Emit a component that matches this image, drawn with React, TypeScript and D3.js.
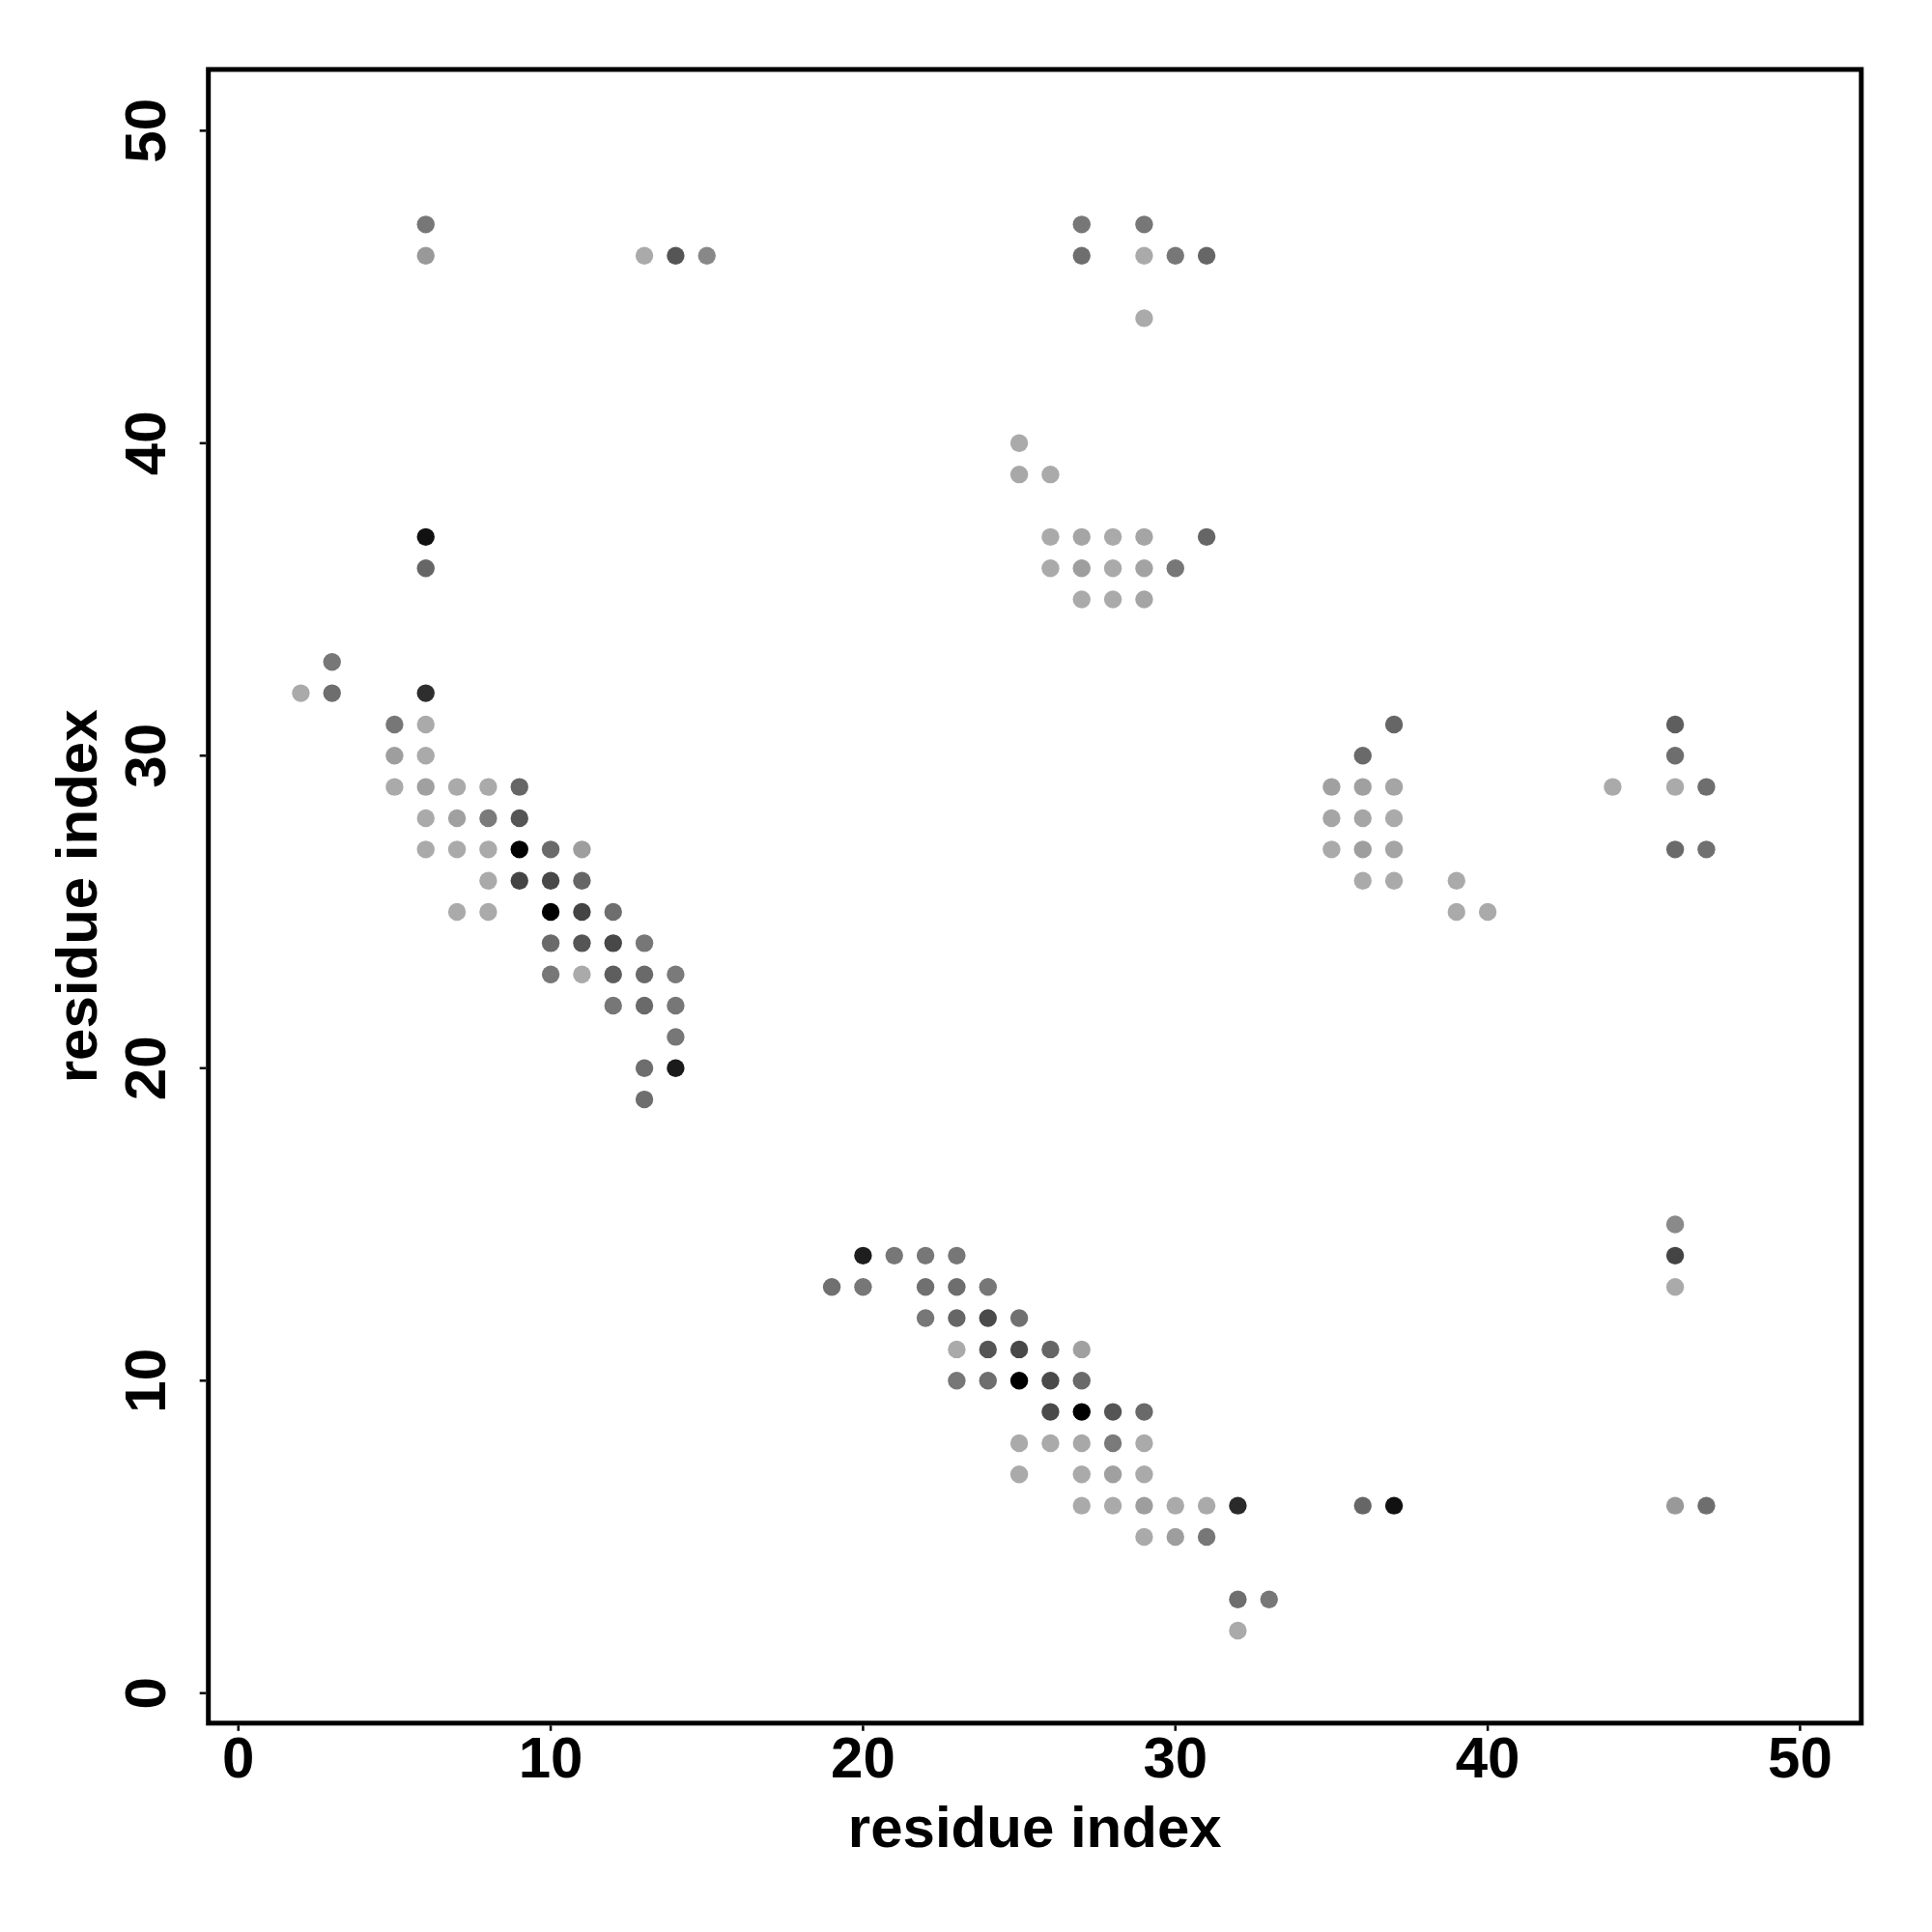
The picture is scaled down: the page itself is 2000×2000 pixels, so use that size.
import React from "react";
import * as d3 from "d3";

// residue pairs (x, y) and grey level (0 = black, 170 = light grey)
const xs = [
  6, 6, 13, 14, 15,
  27, 29, 27, 29, 30, 31, 29,
  25, 25, 26,
  26, 27, 28, 29, 31,
  26, 27, 28, 29, 30,
  27, 28, 29,
  6, 6,
  3, 2, 3, 6,
  5, 6,
  5, 6,
  5, 6, 7, 8, 9,
  6, 7, 8, 9,
  6, 7, 8, 9, 10, 11,
  8, 9, 10, 11,
  7, 8, 10, 11, 12,
  10, 11, 12, 13,
  10, 11, 12, 13, 14,
  12, 13, 14,
  14,
  13, 14,
  13,
  37, 36, 35, 36, 37, 44, 46, 46, 46, 47,
  35, 36, 37,
  35, 36, 37, 46, 47,
  36, 37, 39,
  39, 40,
  46, 46, 46,
  20, 21, 22, 23,
  19, 20, 22, 23, 24,
  22, 23, 24, 25,
  23, 24, 25, 26, 27,
  23, 24, 25, 26, 27,
  26, 27, 28, 29,
  25, 26, 27, 28, 29,
  25, 27, 28, 29,
  27, 28, 29, 30, 31, 32, 36, 37, 46, 47,
  29, 30, 31,
  32, 33,
  32,
];
const ys = [
  47, 46, 46, 46, 46,
  47, 47, 46, 46, 46, 46, 44,
  40, 39, 39,
  37, 37, 37, 37, 37,
  36, 36, 36, 36, 36,
  35, 35, 35,
  37, 36,
  33, 32, 32, 32,
  31, 31,
  30, 30,
  29, 29, 29, 29, 29,
  28, 28, 28, 28,
  27, 27, 27, 27, 27, 27,
  26, 26, 26, 26,
  25, 25, 25, 25, 25,
  24, 24, 24, 24,
  23, 23, 23, 23, 23,
  22, 22, 22,
  21,
  20, 20,
  19,
  31, 30, 29, 29, 29, 29, 31, 30, 29, 29,
  28, 28, 28,
  27, 27, 27, 27, 27,
  26, 26, 26,
  25, 25,
  15, 14, 13,
  14, 14, 14, 14,
  13, 13, 13, 13, 13,
  12, 12, 12, 12,
  11, 11, 11, 11, 11,
  10, 10, 10, 10, 10,
  9, 9, 9, 9,
  8, 8, 8, 8, 8,
  7, 7, 7, 7,
  6, 6, 6, 6, 6, 6, 6, 6, 6, 6,
  5, 5, 5,
  3, 3,
  2,
];
const greys = [
  0x77, 0x99, 0xaa, 0x55, 0x88,
  0x77, 0x77, 0x6e, 0xaa, 0x77, 0x66, 0xaa,
  0xaa, 0xa8, 0xaa,
  0xaa, 0xa5, 0xaa, 0xa5, 0x66,
  0xaa, 0x9e, 0xaa, 0xa3, 0x77,
  0xaa, 0xaa, 0xa5,
  0x11, 0x66,
  0x77, 0xaa, 0x6e, 0x2e,
  0x77, 0xaa,
  0x9e, 0xaa,
  0xaa, 0xa0, 0xaa, 0xaa, 0x66,
  0xaa, 0xa0, 0x7a, 0x55,
  0xaa, 0xaa, 0xaa, 0x00, 0x6a, 0x9e,
  0xaa, 0x44, 0x48, 0x66,
  0xaa, 0xaa, 0x00, 0x44, 0x6e,
  0x6a, 0x55, 0x48, 0x77,
  0x77, 0xaa, 0x5e, 0x6a, 0x7a,
  0x77, 0x6a, 0x77,
  0x77,
  0x6e, 0x1a,
  0x6e,
  0x66, 0x6a, 0xa0, 0xa0, 0xa5, 0xaa, 0x5e, 0x6e, 0xaa, 0x6e,
  0xa5, 0xa5, 0xaa,
  0xaa, 0x9e, 0xa5, 0x6a, 0x70,
  0xaa, 0xaa, 0xaa,
  0xaa, 0xaa,
  0x8a, 0x44, 0xaa,
  0x1e, 0x77, 0x77, 0x77,
  0x70, 0x77, 0x70, 0x6e, 0x77,
  0x77, 0x66, 0x4a, 0x70,
  0xaa, 0x55, 0x48, 0x66, 0xa0,
  0x77, 0x6e, 0x00, 0x4a, 0x6a,
  0x4a, 0x00, 0x55, 0x6a,
  0xaa, 0xaa, 0xa8, 0x7a, 0xaa,
  0xaa, 0xaa, 0xa0, 0xaa,
  0xaa, 0xaa, 0x9e, 0xaa, 0xaa, 0x2a, 0x66, 0x11, 0x99, 0x6e,
  0xaa, 0x9e, 0x77,
  0x6e, 0x77,
  0xaa,
];
const xTicks = [0, 10, 20, 30, 40, 50];
const yTicks = [0, 10, 20, 30, 40, 50];
const xTitle = "residue index";
const yTitle = "residue index";

export default function App() {
  const W = 2000;
  const H = 2000;
  const x = d3.scaleLinear().domain([-0.96, 51.96]).range([215.7, 1926.8]);
  const y = d3.scaleLinear().domain([-0.96, 51.96]).range([1783.8, 71.9]);
  const font = "'Liberation Sans', Arial, Helvetica, sans-serif";
  const [x0, x1] = x.range();
  const [y0, y1] = y.range();
  return (
    <svg
      width={W}
      height={H}
      style={{ position: "absolute", left: 0, top: 0, background: "#fff" }}
    >
      <rect x={0} y={0} width={W} height={H} fill="#fff" />
      {xs.map((xv, i) => {
        const g = greys[i];
        return (
          <circle
            key={i}
            cx={x(xv)}
            cy={y(ys[i])}
            r={9.2}
            fill={d3.rgb(g, g, g).toString()}
          />
        );
      })}
      <rect
        x={x0}
        y={y1}
        width={x1 - x0}
        height={y0 - y1}
        fill="none"
        stroke="#000"
        strokeWidth={5}
      />
      {xTicks.map((t) => (
        <g key={"xt" + t}>
          <line x1={x(t)} x2={x(t)} y1={y0 + 2.5} y2={y0 + 8} stroke="#000" strokeWidth={2.5} />
          <text
            x={x(t)}
            y={1839.5}
            textAnchor="middle"
            fontFamily={font}
            fontWeight="bold"
            fontSize={60}
          >
            {t}
          </text>
        </g>
      ))}
      {yTicks.map((t) => (
        <g key={"yt" + t}>
          <line x1={x0 - 2.5} x2={x0 - 9} y1={y(t)} y2={y(t)} stroke="#000" strokeWidth={2.5} />
          <text
            transform={`translate(171,${y(t)}) rotate(-90)`}
            textAnchor="middle"
            fontFamily={font}
            fontWeight="bold"
            fontSize={60}
          >
            {t}
          </text>
        </g>
      ))}
      <text
        x={(x0 + x1) / 2}
        y={1912}
        textAnchor="middle"
        fontFamily={font}
        fontWeight="bold"
        fontSize={60}
      >
        {xTitle}
      </text>
      <text
        transform={`translate(100,${(y0 + y1) / 2}) rotate(-90)`}
        textAnchor="middle"
        fontFamily={font}
        fontWeight="bold"
        fontSize={60}
      >
        {yTitle}
      </text>
    </svg>
  );
}
